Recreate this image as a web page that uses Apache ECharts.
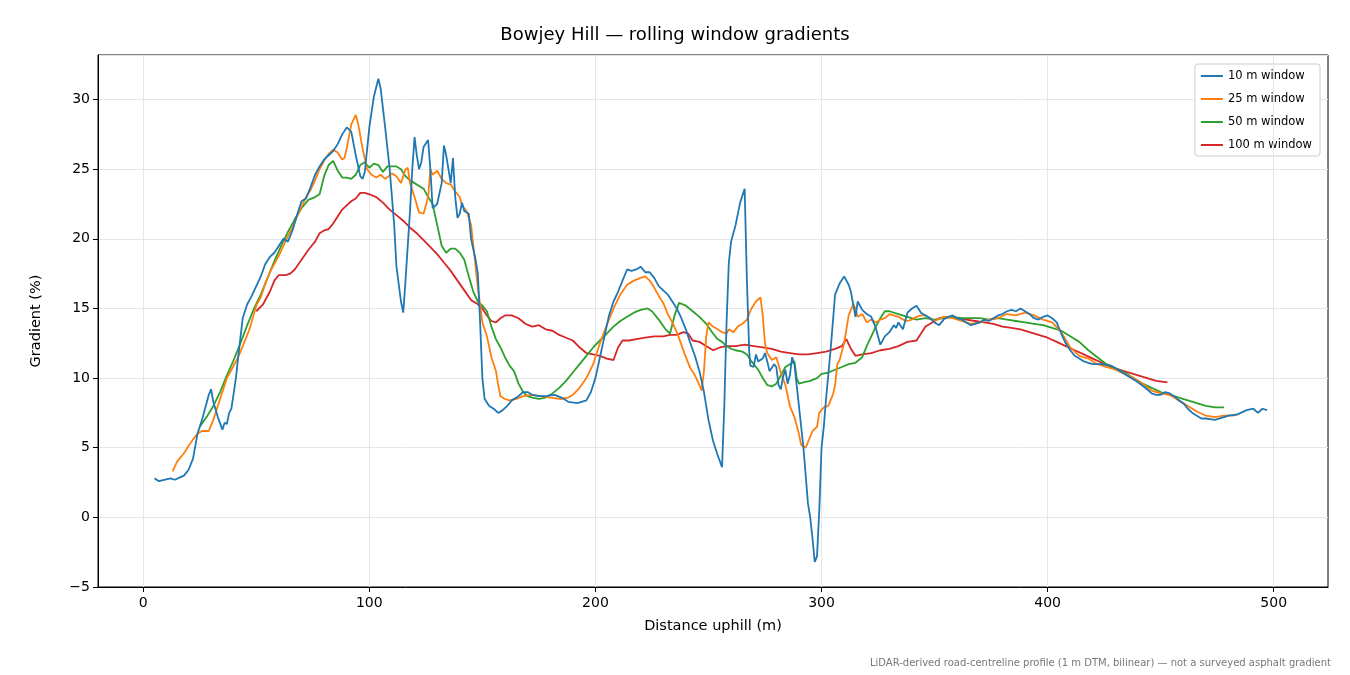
<!DOCTYPE html>
<html><head><meta charset="utf-8">
<script src="https://cdn.jsdelivr.net/npm/echarts@6/dist/echarts.min.js"></script>
<style>html,body{margin:0;padding:0;background:#fff}#c{width:1350px;height:675px}</style>
</head><body><div id="c"></div>
<script>
const seriesNames = ['10 m window','25 m window','50 m window','100 m window'];
const xTicks = [0,100,200,300,400,500];
const w10 = [[5,2.8],[7,2.6],[12,2.8],[14,2.7],[18,3.0],[20,3.4],[22,4.2],[24,6.0],[26,7.0],[28,8.2],[29,8.8],[30,9.2],[31,8.3],[33,7.2],[35,6.3],[36,6.8],[37,6.7],[38,7.5],[39,7.8],[41,10],[42,11.5],[44,14.3],[46,15.3],[48,15.9],[50,16.6],[52,17.3],[54,18.2],[56,18.7],[58,19.0],[60,19.5],[62,20],[64,19.8],[66,20.6],[68,21.7],[70,22.7],[72,22.9],[74,23.7],[76,24.6],[78,25.2],[80,25.7],[82,26.0],[84,26.3],[86,26.8],[88,27.5],[90,28.0],[92,27.7],[94,26],[96,24.5],[97,24.3],[98,24.8],[100,28],[102,30.2],[104,31.5],[105,30.8],[107,28],[109,25],[111,21],[112,18],[114,15.5],[115,14.7],[116,17],[118,22],[119,25],[120,27.3],[121,26],[122,25],[123,25.5],[124,26.6],[126,27.1],[127,25],[128,22.2],[130,22.5],[132,24],[133,26.7],[134,26],[135,25],[136,24],[137,25.8],[138,23],[139,21.5],[140,21.8],[141,22.6],[142,22],[144,21.8],[145,20],[147,18.5],[148,17.5],[149,14],[150,10],[151,8.5],[153,8],[155,7.8],[157,7.5],[159,7.7],[161,8],[163,8.4],[166,8.7],[168,9.0],[170,9.0],[172,8.8],[175,8.7],[178,8.7],[182,8.8],[185,8.6],[188,8.3],[192,8.2],[196,8.4],[198,9.0],[200,10],[202,11.5],[204,13],[206,14.5],[208,15.5],[210,16.2],[212,17.0],[214,17.8],[216,17.7],[218,17.8],[220,18],[222,17.6],[224,17.6],[226,17.2],[228,16.6],[230,16.3],[232,16],[234,15.5],[236,15],[238,14.3],[240,13.5],[242,12.5],[244,11.6],[246,10.5],[248,9],[250,7],[252,5.5],[254,4.5],[256,3.6],[257,8],[258,14],[259,18.3],[260,19.8],[262,21],[264,22.6],[266,23.6],[267,17],[268,12],[268.5,10.9],[270,10.8],[271,11.7],[272,11.2],[274,11.4],[275,11.8],[276,11.2],[277,10.5],[279,11],[280,10.8],[281,9.5],[282,9.2],[283,10.1],[284,10.6],[285,9.6],[286,10.2],[287,11.5],[288,11],[290,8],[292,5],[293,3],[294,1],[295,0.0],[296,-1.5],[297,-3.2],[298,-2.8],[299,0.5],[300,5],[301,6.5],[302,8.5],[304,12],[306,16],[308,16.8],[310,17.3],[312,16.7],[313,16.2],[314,15.3],[315,14.4],[316,15.5],[318,14.9],[320,14.6],[322,14.4],[324,13.6],[326,12.4],[328,13],[330,13.3],[332,13.8],[333,13.6],[334,14.0],[336,13.5],[338,14.7],[340,15.0],[342,15.2],[344,14.7],[346,14.5],[348,14.3],[350,14.0],[352,13.8],[354,14.2],[356,14.4],[358,14.5],[360,14.3],[362,14.2],[364,14.0],[366,13.8],[368,13.9],[370,14.0],[372,14.2],[374,14.1],[376,14.3],[378,14.5],[380,14.6],[382,14.8],[384,14.9],[386,14.8],[388,15.0],[390,14.8],[392,14.6],[394,14.3],[396,14.2],[398,14.4],[400,14.5],[402,14.3],[404,14.0],[406,13.2],[408,12.5],[410,12.0],[412,11.6],[414,11.4],[416,11.2],[418,11.1],[420,11.0],[424,11.0],[428,10.9],[430,10.7],[433,10.4],[436,10.1],[440,9.7],[444,9.2],[446,8.9],[448,8.8],[450,8.8],[452,9.0],[454,8.9],[456,8.7],[458,8.4],[460,8.2],[462,7.8],[464,7.5],[466,7.3],[468,7.1],[470,7.1],[474,7.0],[478,7.2],[480,7.3],[484,7.4],[488,7.7],[491,7.8],[493,7.5],[495,7.8],[497,7.7]];
const w25 = [[13,3.3],[15,4],[18,4.6],[20,5.1],[22,5.6],[24,6.0],[26,6.2],[29,6.2],[31,7],[33,8],[35,9],[37,10],[39,10.6],[42,11.5],[44,12.3],[47,13.5],[50,15.2],[52,15.8],[54,16.8],[56,17.6],[58,18.2],[60,18.8],[62,19.5],[64,20.2],[66,20.8],[68,21.6],[70,22.3],[72,23],[74,23.5],[76,24.2],[78,25],[80,25.6],[82,26.1],[84,26.4],[86,26.2],[88,25.7],[89,25.8],[90,26.5],[92,28.2],[94,28.9],[95,28.3],[97,26.5],[99,25],[101,24.6],[103,24.4],[105,24.6],[107,24.3],[110,24.7],[112,24.5],[114,24],[116,25],[117,25.1],[118,24],[120,23],[122,21.9],[124,21.8],[126,23],[127,25],[128,24.6],[130,24.9],[132,24.3],[134,24],[136,23.9],[138,23.4],[140,23],[141,22.4],[143,22],[145,21],[146,19.5],[147,18],[148,16.5],[150,14],[152,13],[154,11.5],[156,10.5],[157,9.5],[158,8.7],[160,8.5],[162,8.4],[165,8.5],[168,8.7],[172,8.8],[176,8.7],[180,8.6],[185,8.5],[188,8.6],[190,8.8],[193,9.3],[196,10],[199,11],[202,12.5],[205,13.8],[208,15],[211,16],[214,16.7],[217,17],[220,17.2],[222,17.3],[224,17],[226,16.5],[228,15.9],[230,15.4],[232,14.6],[234,14],[236,13.3],[238,12.4],[240,11.5],[242,10.7],[244,10.2],[246,9.5],[247,9.1],[248,10.5],[249,13],[250,14],[252,13.7],[254,13.5],[256,13.3],[258,13.2],[259,13.5],[261,13.3],[263,13.7],[265,13.9],[267,14.2],[269,15.0],[271,15.5],[273,15.8],[274,14.5],[275,12.5],[276,11.8],[278,11.3],[280,11.5],[282,10.4],[284,9.5],[286,8],[288,7.2],[290,6.0],[291,5.2],[293,5.0],[294,5.4],[296,6.2],[298,6.5],[299,7.5],[301,7.9],[303,8.0],[305,8.8],[306,9.5],[307,11],[308,11.3],[310,12.5],[312,14.5],[314,15.3],[315,15.0],[316,14.4],[318,14.6],[320,14.0],[322,14.2],[324,14.0],[326,14.2],[328,14.3],[330,14.6],[334,14.4],[336,14.2],[338,14.1],[340,14.2],[342,14.4],[344,14.5],[346,14.5],[348,14.3],[350,14.1],[354,14.4],[358,14.3],[362,14.1],[366,13.9],[370,14.0],[374,14.2],[378,14.3],[382,14.6],[386,14.5],[390,14.7],[394,14.5],[398,14.2],[402,14.0],[406,13.3],[410,12.2],[414,11.6],[418,11.4],[422,11.0],[426,10.8],[430,10.6],[434,10.3],[438,10.0],[442,9.6],[446,9.1],[450,8.9],[454,8.8],[458,8.4],[462,8.0],[466,7.6],[470,7.3],[474,7.2],[478,7.3],[482,7.3],[484,7.4]];
const w50 = [[25,6.5],[28,7.2],[31,8],[34,9],[37,10.2],[40,11.3],[43,12.5],[46,13.8],[49,15.0],[52,16.0],[55,17.2],[58,18.4],[61,19.5],[64,20.5],[67,21.4],[70,22.2],[73,22.8],[76,23.0],[78,23.2],[80,24.5],[82,25.3],[84,25.6],[86,24.9],[88,24.4],[90,24.4],[92,24.3],[94,24.6],[96,25.3],[98,25.5],[100,25.1],[102,25.4],[104,25.3],[106,24.8],[108,25.2],[110,25.2],[112,25.2],[114,25.0],[116,24.5],[118,24.2],[120,24.0],[122,23.8],[124,23.6],[126,23.0],[128,22.5],[130,21],[132,19.5],[134,19.0],[136,19.3],[138,19.3],[140,19],[142,18.5],[144,17.3],[146,16.2],[148,15.5],[150,15.2],[152,14.8],[154,13.7],[156,12.8],[158,12.2],[160,11.5],[162,10.9],[164,10.5],[166,9.6],[168,9.0],[170,8.7],[172,8.6],[175,8.5],[178,8.6],[181,8.9],[184,9.3],[187,9.8],[190,10.4],[193,11.0],[196,11.6],[199,12.2],[202,12.7],[205,13.2],[208,13.7],[211,14.1],[214,14.4],[217,14.7],[220,14.9],[223,15.0],[225,14.8],[228,14.2],[231,13.5],[233,13.2],[235,14.5],[237,15.4],[240,15.2],[243,14.8],[246,14.4],[249,13.9],[252,13.2],[254,12.8],[256,12.6],[258,12.3],[260,12.1],[262,12.0],[265,11.9],[267,11.7],[269,11.2],[272,10.6],[274,10.0],[276,9.5],[278,9.4],[280,9.6],[282,10.2],[284,10.8],[286,11.0],[288,11.2],[289,10],[290,9.6],[292,9.7],[295,9.8],[298,10.0],[300,10.3],[303,10.4],[306,10.6],[309,10.8],[312,11.0],[315,11.1],[318,11.5],[320,12.3],[322,13],[324,13.7],[326,14.3],[328,14.8],[330,14.8],[334,14.6],[338,14.4],[342,14.2],[346,14.3],[350,14.2],[354,14.3],[358,14.4],[362,14.3],[366,14.3],[370,14.3],[374,14.2],[378,14.3],[382,14.2],[386,14.1],[390,14.0],[394,13.9],[398,13.8],[402,13.6],[406,13.4],[410,13.0],[414,12.6],[418,12.0],[422,11.5],[426,11.0],[430,10.7],[434,10.4],[438,10.0],[442,9.6],[446,9.3],[450,9.0],[454,8.8],[458,8.6],[462,8.4],[466,8.2],[470,8.0],[474,7.9],[478,7.9]];
const w100 = [[50,14.8],[53,15.3],[56,16.2],[58,17.0],[60,17.4],[63,17.4],[65,17.5],[67,17.8],[70,18.5],[73,19.2],[76,19.8],[78,20.4],[80,20.6],[82,20.7],[84,21.1],[86,21.6],[88,22.1],[90,22.4],[92,22.7],[94,22.9],[96,23.3],[98,23.3],[100,23.2],[103,23.0],[106,22.6],[109,22.1],[112,21.7],[115,21.3],[118,20.8],[121,20.4],[124,19.9],[127,19.4],[130,18.9],[133,18.3],[136,17.7],[139,17.0],[142,16.3],[145,15.6],[148,15.3],[150,15.0],[152,14.5],[154,14.1],[156,14.0],[158,14.3],[160,14.5],[163,14.5],[166,14.3],[169,13.9],[172,13.7],[175,13.8],[178,13.5],[181,13.4],[184,13.1],[187,12.9],[190,12.7],[193,12.2],[196,11.8],[199,11.7],[202,11.6],[205,11.4],[208,11.3],[210,12.2],[212,12.7],[215,12.7],[218,12.8],[222,12.9],[226,13.0],[230,13.0],[233,13.1],[236,13.1],[239,13.3],[241,13.2],[243,12.7],[246,12.6],[249,12.3],[252,12.0],[255,12.2],[258,12.3],[262,12.3],[266,12.4],[270,12.3],[274,12.2],[278,12.1],[282,11.9],[286,11.8],[290,11.7],[294,11.7],[298,11.8],[302,11.9],[306,12.1],[309,12.3],[311,12.8],[313,12.1],[315,11.6],[318,11.7],[322,11.8],[326,12.0],[330,12.1],[334,12.3],[338,12.6],[342,12.7],[344,13.2],[346,13.7],[349,14.0],[352,14.3],[356,14.4],[360,14.3],[364,14.2],[368,14.1],[372,14.0],[376,13.9],[380,13.7],[384,13.6],[388,13.5],[392,13.3],[396,13.1],[400,12.9],[404,12.6],[408,12.3],[412,12.0],[416,11.7],[420,11.4],[424,11.1],[428,10.8],[432,10.6],[436,10.4],[440,10.2],[444,10.0],[448,9.8],[453,9.7]];

const colors = ['#1f77b4','#ff7f0e','#2ca02c','#d62728'];
const datas = [w10,w25,w50,w100];
const chart = echarts.init(document.getElementById('c'));
const F = 'DejaVu Sans';
const minus = v => String(v).replace('-', '\u2212');
chart.setOption({
  animation:false,
  textStyle:{fontFamily:F},
  title:[{text:'Bowjey Hill — rolling window gradients',left:'center',top:21,textStyle:{fontFamily:F,fontSize:18,fontWeight:'normal',color:'#000'}},
         {text:'LiDAR-derived road-centreline profile (1 m DTM, bilinear) — not a surveyed asphalt gradient',right:14,top:653,textStyle:{fontFamily:F,fontSize:10,fontWeight:'normal',color:'#777'}}],
  legend:{orient:'vertical',right:30,top:64,itemWidth:22,itemHeight:2,itemGap:11,icon:'rect',
    borderColor:'#ccc',borderWidth:1,borderRadius:3,padding:[6,8,5,6],backgroundColor:'#fff',
    textStyle:{fontFamily:F,fontSize:11.5,color:'#000'},data:seriesNames},
  grid:{left:98,right:22,top:55,bottom:88,show:true,borderColor:'#000',borderWidth:1},
  xAxis:{type:'value',min:-20,max:524,
    name:'Distance uphill (m)',nameLocation:'middle',nameGap:32,nameTextStyle:{fontFamily:F,fontSize:14.5,color:'#000'},
    axisLine:{show:true,onZero:false,lineStyle:{color:'#000'}},
    axisTick:{show:true,customValues:xTicks,length:5,lineStyle:{color:'#000'}},
    axisLabel:{customValues:xTicks,color:'#000',fontSize:14,fontFamily:F,margin:9},
    splitLine:{show:false}},
  yAxis:{type:'value',min:-5,max:33.2,interval:5,
    name:'Gradient (%)',nameLocation:'middle',nameGap:54,nameTextStyle:{fontFamily:F,fontSize:14.5,color:'#000'},
    axisLine:{show:true,onZero:false,lineStyle:{color:'#000'}},
    axisTick:{show:true,length:5,lineStyle:{color:'#000'}},
    axisLabel:{color:'#000',fontSize:14,fontFamily:F,showMaxLabel:false,formatter:minus},
    splitLine:{show:true,lineStyle:{color:'#e6e6e6'}}},
  series: datas.map((d,i)=>({name:seriesNames[i],type:'line',data:d,showSymbol:false,symbol:'none',
    lineStyle:{width:1.8,color:colors[i]},itemStyle:{color:colors[i]},z:10-i,
    markLine: i===0?{silent:true,symbol:'none',label:{show:false},lineStyle:{color:'#e6e6e6',type:'solid',width:1},
      data:xTicks.map(v=>({xAxis:v}))}:undefined}))
});
</script></body></html>
